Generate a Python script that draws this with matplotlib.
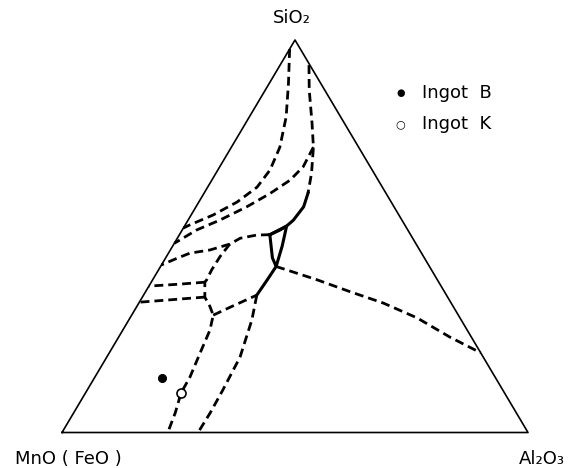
import numpy as np
import matplotlib.pyplot as plt

# compositions in wt%: (Al2O3, SiO2), MnO(FeO) = rest
frame_al = [0, 100, 0, 0]
frame_si = [0, 0, 100, 0]

# dashed boundary lines
a_al = [0.0, 4.1, 7.9, 10.4, 11.2, 10.6, 8.2, 4.7, 1.0, 0.0]
a_si = [97.7, 89.0, 80.4, 72.7, 66.9, 62.5, 58.7, 55.4, 52.9, 52.1]

v_al = [6.2, 9.4, 14.2, 17.6, 20.5, 22.3]
v_si = [93.6, 87.3, 78.9, 72.7, 66.1, 61.0]

b_al = [17.6, 17.9, 16.8, 14.2, 10.9, 6.8, 3.1, 0.0]
b_si = [72.7, 67.7, 64.3, 60.9, 57.5, 54.1, 51.6, 48.2]

c_al = [19.4, 16.6, 13.5, 12.0, 8.5, 4.6, 2.2, 0.0]
c_si = [50.4, 50.3, 49.5, 48.0, 46.5, 45.7, 44.2, 42.7]

d_al = [12.0, 11.5, 11.4, 11.6, 11.5, 13.4, 15.7, 17.5, 18.7, 19.5, 20.4, 20.5, 21.8, 22.7]
d_si = [48.0, 44.8, 41.4, 38.9, 38.3, 34.5, 32.1, 29.9, 26.1, 20.3, 14.1, 10.1, 5.0, 0.0]

h1_al = [11.5, 6.4, 0.0]
h1_si = [38.3, 37.8, 37.3]

h2_al = [13.4, 6.3, 0.0]
h2_si = [34.5, 33.8, 33.2]

e_al = [17.5, 20.1, 24.3]
e_si = [29.9, 31.9, 35.0]

f_al = [24.3, 26.4, 28.6, 29.1, 29.3, 29.2]
f_si = [35.0, 28.7, 19.2, 10.8, 5.0, 0.0]

g_al = [24.8, 35.3, 43.8, 52.4, 61.6, 71.1, 79.7]
g_si = [42.3, 38.9, 35.9, 33.0, 29.2, 24.3, 20.3]

# solid boundary lines
s1_al = [22.3, 23.1, 22.6, 21.9, 21.0, 19.4]
s1_si = [61.0, 57.5, 54.1, 52.6, 51.6, 50.4]

tri_al = [19.4, 21.9, 23.5, 24.8, 22.9, 19.4]
tri_si = [50.4, 52.6, 47.5, 42.3, 44.5, 50.4]

s2_al = [24.8, 24.6, 24.3]
s2_si = [42.3, 38.9, 35.0]

# ingots
ingot_b = (14.5, 13.9)
ingot_k = (20.5, 10.1)


def tern(al, si):
    al = np.asarray(al, dtype=float) / 100
    si = np.asarray(si, dtype=float) / 100
    return al + si / 2, si * np.sqrt(3) / 2


fig = plt.figure(figsize=(5.76, 4.68), dpi=100)
ax = fig.add_axes([0.10764, 0.07585, 0.80903, 0.83868])
ax.set_xlim(0, 1)
ax.set_ylim(0, np.sqrt(3) / 2)
ax.axis('off')

x, y = tern(frame_al, frame_si)
ax.plot(x, y, color='k', lw=1.2, clip_on=False)

dash = (0, (3.2, 1.8))
for al, si in [(a_al, a_si), (v_al, v_si), (b_al, b_si), (c_al, c_si),
               (d_al, d_si), (h1_al, h1_si), (h2_al, h2_si), (e_al, e_si),
               (f_al, f_si), (g_al, g_si)]:
    x, y = tern(al, si)
    ax.plot(x, y, color='k', lw=2.0, linestyle=dash, clip_on=False)

for al, si in [(s1_al, s1_si), (tri_al, tri_si), (s2_al, s2_si)]:
    x, y = tern(al, si)
    ax.plot(x, y, color='k', lw=2.2, solid_joinstyle='round', clip_on=False)

x, y = tern([ingot_b[0]], [ingot_b[1]])
ax.plot(x, y, 'o', color='k', ms=5.5)
x, y = tern([ingot_k[0]], [ingot_k[1]])
ax.plot(x, y, 'o', mfc='white', mec='k', mew=1.2, ms=6.5)

# legend
fig.text(0.695, 1 - 93 / 468, '\u25cf', fontsize=7, ha='center', va='center')
fig.text(0.695, 1 - 124 / 468, '\u25cb', fontsize=8, ha='center', va='center')
fig.text(0.733, 1 - 93 / 468, 'Ingot  B', fontsize=13, ha='left', va='center')
fig.text(0.733, 1 - 124 / 468, 'Ingot  K', fontsize=13, ha='left', va='center')

# corner labels
fig.text(292 / 576, 1 - 18 / 468, 'SiO\u2082', fontsize=13, ha='center', va='center')
fig.text(15 / 576, 1 - 459 / 468, 'MnO ( FeO )', fontsize=13, ha='left', va='center')
fig.text(542 / 576, 1 - 459 / 468, 'Al\u2082O\u2083', fontsize=13, ha='center', va='center')

fig.savefig('out.png', dpi=100)
